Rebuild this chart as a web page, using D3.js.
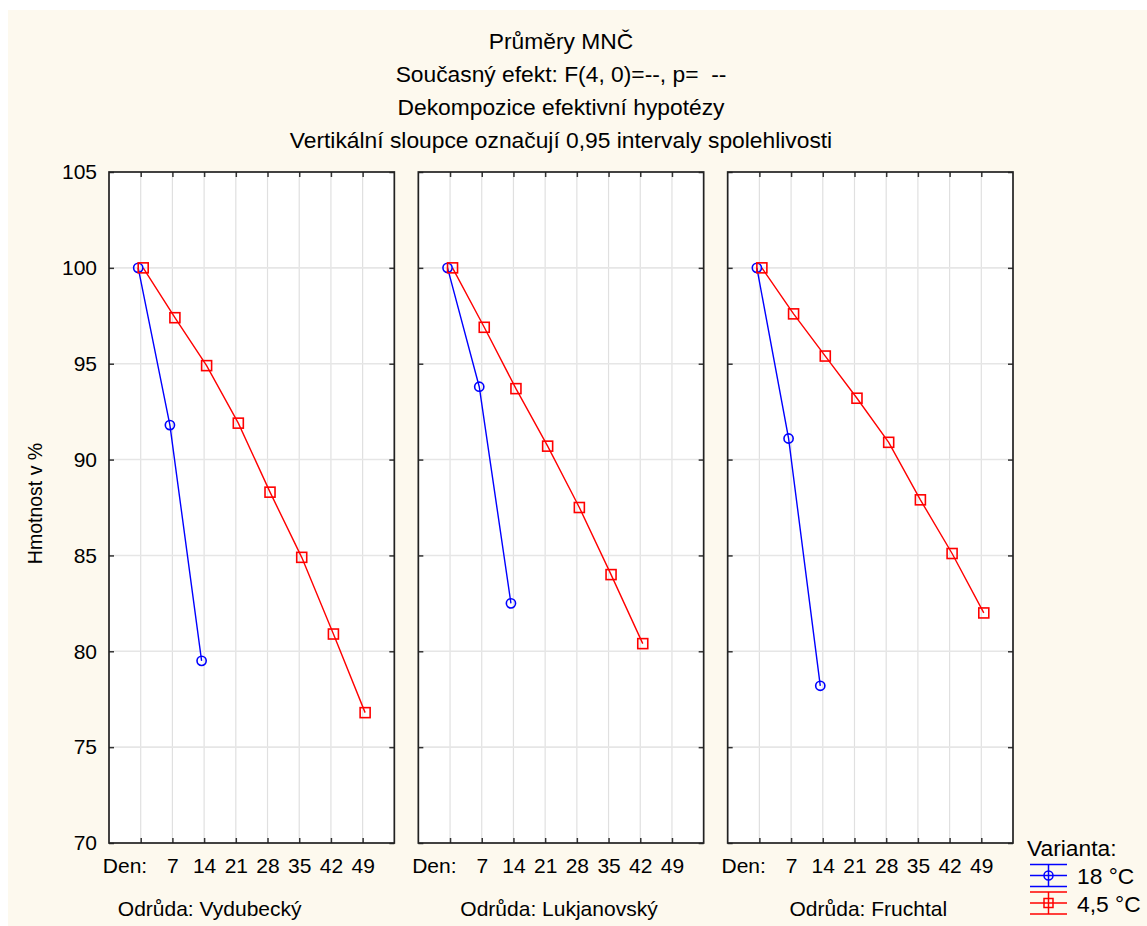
<!DOCTYPE html>
<html>
<head>
<meta charset="utf-8">
<script src="https://cdn.jsdelivr.net/npm/d3@7"></script>
<style>
  html, body { margin: 0; padding: 0; background: #ffffff; }
  svg { display: block; }
  text { font-family: "Liberation Sans", Arial, sans-serif; fill: #000; white-space: pre; }
</style>
</head>
<body>
<svg id="chart" width="1147" height="926"></svg>
<script>
// ---------- data ----------
const titleLines = [
  "Průměry MNČ",
  "Současný efekt: F(4, 0)=--, p=  --",
  "Dekompozice efektivní hypotézy",
  "Vertikální sloupce označují 0,95 intervaly spolehlivosti"
];
const dayLabels = ["Den:", "7", "14", "21", "28", "35", "42", "49"];
const varieties = ["Odrůda: Vydubecký", "Odrůda: Lukjanovský", "Odrůda: Fruchtal"];
const seriesNames = ["18 °C", "4,5 °C"];
const values18 = [
  [100, 91.8, 79.5],
  [100, 93.8, 82.5],
  [100, 91.1, 78.2]
];
const values45 = [
  [100, 97.4, 94.9, 91.9, 88.3, 84.9, 80.9, 76.8],
  [100, 96.9, 93.7, 90.7, 87.5, 84.0, 80.4],
  [100, 97.6, 95.4, 93.2, 90.9, 87.9, 85.1, 82.0]
];
const yTicks = [70, 75, 80, 85, 90, 95, 100, 105];
const yLabel = "Hmotnost v %";
const legendTitle = "Varianta:";

// ---------- layout ----------
const svg = d3.select("#chart");
const cream = "#fdf9ee";
const blue = "#0000ff", red = "#ff0000";
const plotTop = 172, plotBottom = 843;
const FONT = 21, BIG = 22.8;

svg.append("rect").attr("x", 8).attr("y", 10).attr("width", 1139).attr("height", 916).attr("fill", cream);

titleLines.forEach((t, i) => {
  svg.append("text").attr("x", 561).attr("y", 48.5 + i * 33.3)
    .attr("text-anchor", "middle").attr("font-size", BIG).text(t);
});

const panelScale = d3.scaleBand().domain(varieties).range([109, 1013]).paddingInner(0.0776);
const y = d3.scaleLinear().domain([70, 105]).range([plotBottom, plotTop]);

svg.append("text")
  .attr("transform", `translate(42,${(plotTop + plotBottom) / 2 - 4}) rotate(-90)`)
  .attr("text-anchor", "middle").attr("font-size", 19.5).text(yLabel);

const labelShift = [-42, -2, -2];

varieties.forEach((v, pi) => {
  const x0 = panelScale(v), w = panelScale.bandwidth();
  const x = d3.scalePoint().domain(dayLabels).range([x0, x0 + w]).padding(1);
  const g = svg.append("g");

  g.append("rect").attr("x", x0).attr("y", plotTop).attr("width", w).attr("height", plotBottom - plotTop).attr("fill", "#fff");

  // grid
  g.selectAll(".vg").data(dayLabels).enter().append("line")
    .attr("x1", d => x(d)).attr("x2", d => x(d)).attr("y1", plotTop).attr("y2", plotBottom)
    .attr("stroke", "#e0e0e0").attr("stroke-width", 1.2);
  g.selectAll(".hg").data(yTicks.filter(t => t > 70 && t < 105)).enter().append("line")
    .attr("x1", x0).attr("x2", x0 + w).attr("y1", d => y(d)).attr("y2", d => y(d))
    .attr("stroke", "#e6e6e6").attr("stroke-width", 1.6);

  // axes
  const ax = d3.axisBottom(x).tickSizeInner(-5).tickSizeOuter(0).tickPadding(15);
  const axG = g.append("g").attr("transform", `translate(0,${plotBottom})`).call(ax);
  axG.selectAll("text").attr("font-size", FONT).attr("font-family", "Liberation Sans, Arial, sans-serif").attr("fill", "#000")
    .attr("text-anchor", d => d === "Den:" ? "end" : "middle")
    .attr("dx", d => d === "Den:" ? 6 : 0);
  const axT = g.append("g").attr("transform", `translate(0,${plotTop})`).call(d3.axisTop(x).tickSizeInner(-5).tickSizeOuter(0).tickFormat(""));
  const axL = g.append("g").attr("transform", `translate(${x0},0)`)
    .call(d3.axisLeft(y).tickValues(yTicks).tickSizeInner(-5).tickSizeOuter(0).tickPadding(12).tickFormat(pi === 0 ? d3.format("d") : ""));
  axL.selectAll("text").attr("font-size", FONT).attr("font-family", "Liberation Sans, Arial, sans-serif").attr("fill", "#000");
  const axR = g.append("g").attr("transform", `translate(${x0 + w},0)`)
    .call(d3.axisRight(y).tickValues(yTicks).tickSizeInner(-5).tickSizeOuter(0).tickFormat(""));
  [axG, axT, axL, axR].forEach(a => {
    a.select(".domain").remove();
    a.selectAll(".tick line").attr("stroke", "#333").attr("stroke-width", 1.5);
  });

  g.append("rect").attr("x", x0).attr("y", plotTop).attr("width", w).attr("height", plotBottom - plotTop)
    .attr("fill", "none").attr("stroke", "#222").attr("stroke-width", 1.7);

  // series
  const line = off => d3.line().x((d, i) => x(dayLabels[i]) + off).y(d => y(d));
  g.append("path").datum(values18[pi]).attr("d", line(-2.5)).attr("fill", "none").attr("stroke", blue).attr("stroke-width", 1.4);
  g.append("path").datum(values45[pi]).attr("d", line(2.5)).attr("fill", "none").attr("stroke", red).attr("stroke-width", 1.4);
  g.selectAll(".c").data(values18[pi]).enter().append("circle")
    .attr("cx", (d, i) => x(dayLabels[i]) - 2.5).attr("cy", d => y(d)).attr("r", 4.6)
    .attr("fill", "none").attr("stroke", blue).attr("stroke-width", 1.6);
  g.selectAll(".s").data(values45[pi]).enter().append("rect")
    .attr("x", (d, i) => x(dayLabels[i]) + 2.5 - 5).attr("y", d => y(d) - 5).attr("width", 10).attr("height", 10)
    .attr("fill", "none").attr("stroke", red).attr("stroke-width", 1.6);

  svg.append("text").attr("x", x0 + w / 2 + labelShift[pi]).attr("y", 916)
    .attr("text-anchor", "middle").attr("font-size", 21).text(v);
});

// legend
svg.append("text").attr("x", 1027).attr("y", 856).attr("font-size", BIG).text(legendTitle);
const legendRows = [
  { name: seriesNames[0], color: blue, cy: 875.5, sym: "circle" },
  { name: seriesNames[1], color: red, cy: 903, sym: "square" }
];
legendRows.forEach(r => {
  const lg = svg.append("g").attr("stroke", r.color).attr("stroke-width", 1.5).attr("fill", "none");
  [-11, 0, 11].forEach(dy => lg.append("line").attr("x1", 1030).attr("x2", 1067).attr("y1", r.cy + dy).attr("y2", r.cy + dy));
  lg.append("line").attr("x1", 1048.5).attr("x2", 1048.5).attr("y1", r.cy - 11).attr("y2", r.cy + 11);
  if (r.sym === "circle") lg.append("circle").attr("cx", 1048.5).attr("cy", r.cy).attr("r", 4.5);
  else lg.append("rect").attr("x", 1044).attr("y", r.cy - 4.5).attr("width", 9).attr("height", 9);
  svg.append("text").attr("x", 1077).attr("y", r.cy + 8.5).attr("font-size", BIG).text(r.name);
});
</script>
</body>
</html>
